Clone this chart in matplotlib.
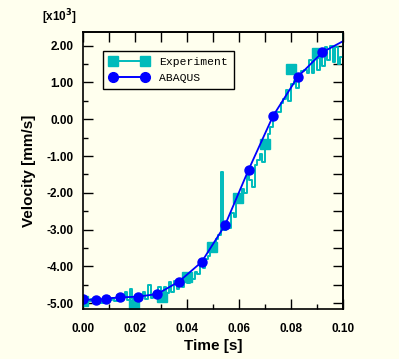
import numpy as np
import matplotlib
matplotlib.use('Agg')
import matplotlib.pyplot as plt
from matplotlib.ticker import MultipleLocator, FormatStrFormatter

plt.rcParams['axes.unicode_minus'] = False

# ABAQUS result (x10^3 mm/s)
abaqus_t = [0.0, 0.005, 0.00885, 0.0142, 0.0210, 0.0285, 0.0369, 0.0456,
            0.0546, 0.0637, 0.0731, 0.0826, 0.0921, 0.100]
abaqus_v = [-4.89, -4.91, -4.87, -4.84, -4.82, -4.75, -4.41, -3.88,
            -2.88, -1.37, 0.09, 1.15, 1.82, 2.12]

# Experiment trace, sampled every 1 ms
exp_t = np.arange(0, 101) / 1000.0
exp_v = [-4.95, -4.85, -4.95, -4.88, -4.98, -4.85, -4.92, -5.00, -4.86, -4.80,
         -4.92, -4.85, -4.95, -4.78, -4.88, -4.84, -4.70, -4.90, -4.60, -4.88,
         -5.05, -4.85, -4.80, -4.70, -4.88, -4.50, -4.85, -4.75, -4.80, -4.55,
         -4.78, -4.55, -4.72, -4.42, -4.70, -4.40, -4.62, -4.38, -4.55, -4.28,
         -4.45, -4.25, -4.35, -4.15, -4.20, -3.95, -4.05, -3.80, -3.72, -3.55,
         -3.40, -3.25, -3.15, -1.42, -3.00, -2.85, -2.95, -2.55, -2.65, -2.25,
         -2.10, -1.90, -2.00, -1.55, -1.65, -1.85, -1.25, -1.10, -0.95, -1.15,
         -0.65, -0.40, -0.20, 0.15, 0.20, 0.20, 0.45, 0.55, 0.80, 0.50,
         0.95, 1.05, 0.85, 1.15, 1.30, 1.35, 1.25, 1.60, 1.25, 1.65,
         1.35, 1.85, 1.45, 1.95, 1.60, 1.98, 1.55, 1.95, 1.50, 1.70,
         2.40]

# square symbols on the experiment curve
exp_mark_t = [0.0, 0.0197, 0.0303, 0.0399, 0.0497, 0.0597, 0.0700, 0.0800, 0.0899]
exp_mark_v = [-4.95, -5.05, -4.82, -4.28, -3.48, -2.15, -0.68, 1.36, 1.80]

BG = '#FFFFEE'
CYAN = '#00BBBB'
BLUE = '#0000FF'

fig = plt.figure(figsize=(3.99, 3.59), dpi=100, facecolor=BG)
ax = fig.add_axes([83 / 399, 50 / 359, 260 / 399, 277 / 359])
ax.set_facecolor(BG)

ax.plot(exp_t, exp_v, color=CYAN, lw=1.4, drawstyle='steps-post')
ax.plot(exp_mark_t, exp_mark_v, ls='none', marker='s', ms=6.5, color=CYAN)
ax.plot(abaqus_t, abaqus_v, color=BLUE, lw=1.3, marker='o', ms=6.5,
        markevery=list(range(len(abaqus_t) - 1)))

# legend proxies
h_exp, = ax.plot([], [], color=CYAN, lw=1.4, marker='s', ms=7.5)
h_aba, = ax.plot([], [], color=BLUE, lw=1.4, marker='o', ms=7)
leg = ax.legend([h_exp, h_aba], ['Experiment', 'ABAQUS'], numpoints=2,
                loc='upper left', bbox_to_anchor=(0.077, 0.931),
                borderaxespad=0, handlelength=3.4, fancybox=False,
                framealpha=1, facecolor=BG, edgecolor='black',
                prop={'family': 'Liberation Mono', 'size': 8.2},
                borderpad=0.55, labelspacing=0.45, handletextpad=1.0)
leg.get_frame().set_linewidth(1.0)

ax.set_xlim(0, 0.1)
ax.set_ylim(-5.155, 2.37)

ax.xaxis.set_major_locator(MultipleLocator(0.02))
ax.xaxis.set_minor_locator(MultipleLocator(0.01))
ax.yaxis.set_major_locator(MultipleLocator(1.0))
ax.yaxis.set_minor_locator(MultipleLocator(0.5))
ax.xaxis.set_major_formatter(FormatStrFormatter('%.2f'))
ax.yaxis.set_major_formatter(FormatStrFormatter('%.2f'))
ax.tick_params(which='major', direction='in', length=7.5, width=1.0,
               labelsize=8.5)
ax.tick_params(axis='x', which='major', pad=10)
ax.tick_params(axis='y', which='major', pad=7)
ax.tick_params(which='minor', direction='in', length=3.6, width=1.0)
for lab in ax.get_xticklabels() + ax.get_yticklabels():
    lab.set_fontweight('bold')
    lab.set_family('Liberation Sans')

# top and right: equal ticks, no labels
top = ax.secondary_xaxis('top')
top.xaxis.set_major_locator(MultipleLocator(0.01))
top.tick_params(direction='in', length=7.5, width=1.0, labeltop=False)
right = ax.secondary_yaxis('right')
right.yaxis.set_major_locator(MultipleLocator(0.5))
right.tick_params(direction='in', length=7.5, width=1.0, labelright=False)

for sp in list(ax.spines.values()) + [top.spines['top'], right.spines['right']]:
    sp.set_linewidth(1.2)

ax.set_xlabel('Time [s]', fontsize=11, fontweight='bold',
              family='Liberation Sans', labelpad=3)
ax.set_ylabel('Velocity [mm/s]', fontsize=11, fontweight='bold',
              family='Liberation Sans', labelpad=7)

fig.text(42 / 399, 1 - 17 / 359, r'[x10$^\mathbf{3}$]', fontsize=8.5,
         fontweight='bold', family='Liberation Sans', va='center', ha='left')

fig.savefig('out.png', dpi=100, facecolor=BG)
